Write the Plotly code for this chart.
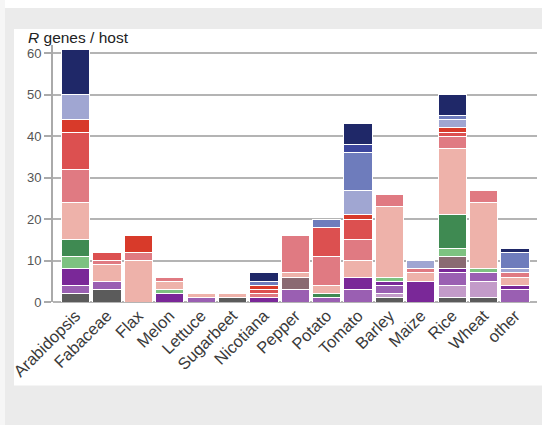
import plotly.graph_objects as go

categories = ["Arabidopsis", "Fabaceae", "Flax", "Melon", "Lettuce", "Sugarbeet", "Nicotiana",
              "Pepper", "Potato", "Tomato", "Barley", "Maize", "Rice", "Wheat", "other"]

gray        = [2, 3, 0, 0, 0, 1, 0, 0, 0, 0, 1, 0, 1, 1, 0]
lightpurple = [0, 0, 0, 0, 0, 0, 0, 0, 0, 0, 1, 0, 3, 4, 0]
medpurple   = [2, 2, 0, 0, 1, 0, 0, 3, 1, 3, 2, 0, 3, 2, 3]
darkpurple  = [4, 0, 0, 2, 0, 0, 1, 0, 0, 3, 1, 5, 1, 0, 1]
mauve       = [0, 0, 0, 0, 0, 0, 0, 3, 0, 0, 0, 0, 3, 0, 0]
lightgreen  = [3, 0, 0, 1, 0, 0, 0, 0, 0, 0, 1, 0, 2, 1, 0]
darkgreen   = [4, 0, 0, 0, 0, 0, 0, 0, 1, 0, 0, 0, 8, 0, 0]
salmon      = [9, 4, 10, 2, 1, 1, 0, 1, 2, 4, 17, 2, 16, 16, 2]
pink        = [8, 1, 2, 1, 0, 0, 1, 9, 7, 5, 3, 1, 3, 3, 1]
red         = [9, 2, 0, 0, 0, 0, 1, 0, 7, 5, 0, 0, 1, 0, 0]
brightred   = [3, 0, 4, 0, 0, 0, 1, 0, 0, 1, 0, 0, 1, 0, 0]
lightblue   = [6, 0, 0, 0, 0, 0, 0, 0, 0, 6, 0, 2, 2, 0, 1]
medblue     = [0, 0, 0, 0, 0, 0, 1, 0, 2, 9, 0, 0, 1, 0, 4]
blue        = [0, 0, 0, 0, 0, 0, 0, 0, 0, 2, 0, 0, 0, 0, 0]
navy        = [11, 0, 0, 0, 0, 0, 2, 0, 0, 5, 0, 0, 5, 0, 1]

series = [
    ("gray", gray, "#5b5b5b"),
    ("lightpurple", lightpurple, "#c39bc9"),
    ("medpurple", medpurple, "#9a5fb2"),
    ("darkpurple", darkpurple, "#7a2898"),
    ("mauve", mauve, "#8a6a72"),
    ("lightgreen", lightgreen, "#7dc281"),
    ("darkgreen", darkgreen, "#3f8a52"),
    ("salmon", salmon, "#eeb2aa"),
    ("pink", pink, "#e07a82"),
    ("red", red, "#dc5050"),
    ("brightred", brightred, "#d83a2a"),
    ("lightblue", lightblue, "#a0a6d2"),
    ("medblue", medblue, "#6e7cbc"),
    ("blue", blue, "#3c469e"),
    ("navy", navy, "#1f2868"),
]

fig = go.Figure()
for name, vals, col in series:
    fig.add_trace(go.Bar(
        x=categories, y=[v if v else None for v in vals], name=name,
        marker=dict(color=col, line=dict(color="white", width=1)),
        showlegend=False,
    ))

W, H = 542, 425
L, R, T, B = 53, 5, 45, 123.3
pw, ph = W - L - R, H - T - B

def px(x):
    return (x - L) / pw

def py(y):
    return (H - B - y) / ph

fig.update_layout(
    width=W, height=H,
    margin=dict(l=L, r=R, t=T, b=B, pad=0),
    barmode="stack", bargap=0.1,
    paper_bgcolor="#ebebeb", plot_bgcolor="rgba(0,0,0,0)",
    font=dict(family="Liberation Sans, Arial, sans-serif", color="#555"),
    xaxis=dict(
        range=[-0.72, 14.7], tickangle=-45, showgrid=False, ticks="",
        tickfont=dict(size=16.5, color="#3a3a3a"), showline=False, zeroline=False,
    ),
    yaxis=dict(
        range=[0, 62], tickvals=[0, 10, 20, 30, 40, 50, 60],
        showgrid=True, gridcolor="#b4b4b4", gridwidth=2,
        showline=True, linecolor="#aaaaaa", linewidth=2,
        ticks="outside", ticklen=7, tickcolor="#aaaaaa", tickwidth=2,
        tickfont=dict(size=13, color="#555"), zeroline=True, zerolinecolor="#b4b4b4",
        zerolinewidth=2,
    ),
    shapes=[
        dict(type="rect", xref="paper", yref="paper", layer="below",
             x0=px(14), x1=px(W), y0=py(385), y1=py(29),
             fillcolor="white", line=dict(width=0)),
        dict(type="rect", xref="paper", yref="paper", layer="below",
             x0=px(0), x1=px(W), y0=py(8), y1=py(0),
             fillcolor="white", line=dict(width=0)),
        dict(type="rect", xref="paper", yref="paper", layer="below",
             x0=px(0), x1=px(5), y0=py(H), y1=py(0),
             fillcolor="#f6f6f6", line=dict(width=0)),
    ],
    annotations=[
        dict(text="<i>R</i> genes / host", xref="paper", yref="paper",
             x=px(26), y=py(38), xanchor="left", yanchor="middle",
             showarrow=False, font=dict(size=15.5, color="#222")),
    ],
)

fig.write_html("out.html")
